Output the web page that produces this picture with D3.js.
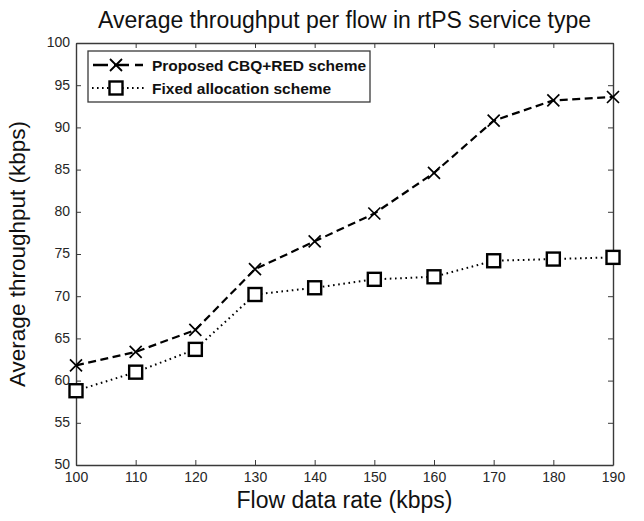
<!DOCTYPE html>
<html>
<head>
<meta charset="utf-8">
<script src="https://cdn.jsdelivr.net/npm/d3@7"></script>
<style>
  body { margin: 0; background: #ffffff; }
  text { font-family: Arial, "Liberation Sans", sans-serif; }
</style>
</head>
<body>
<script>
// data
const flowRates = [100, 110, 120, 130, 140, 150, 160, 170, 180, 190];
const proposedValues = [61.8, 63.4, 66.0, 73.2, 76.5, 79.8, 84.6, 90.8, 93.2, 93.6];
const fixedValues = [58.8, 61.0, 63.7, 70.2, 71.0, 72.0, 72.3, 74.2, 74.4, 74.6];
const yTicks = [50, 55, 60, 65, 70, 75, 80, 85, 90, 95, 100];
const seriesNames = ["Proposed CBQ+RED scheme", "Fixed allocation scheme"];

const titleText = "Average throughput per flow in rtPS service type";
const xLabel = "Flow data rate (kbps)";
const yLabel = "Average throughput (kbps)";

const W = 644, H = 521;
const margin = {top: 43, right: 31, bottom: 56, left: 76},
    width = W - margin.left - margin.right,
    height = H - margin.top - margin.bottom;

let svg = d3.select("body")
  .append("svg")
    .attr("width", W)
    .attr("height", H);

let g = svg.append("g")
    .attr("transform", "translate(" + margin.left + "," + margin.top + ")");

let xScale = d3.scaleLinear()
    .domain([100, 190])
    .range([0, width]);

let yScale = d3.scaleLinear()
    .domain([50, 100])
    .range([height, 0]);

const axisColor = "#3a3a3a";

// axes with inward ticks, MATLAB style
let xAxis = g.append("g")
    .attr("transform", "translate(0," + height + ")")
    .call(d3.axisBottom(xScale).tickValues(flowRates).tickSizeInner(-5).tickSizeOuter(0).tickPadding(7).tickFormat(d3.format("")));

let xTop = g.append("g")
    .call(d3.axisTop(xScale).tickValues(flowRates).tickSizeInner(-5).tickSizeOuter(0).tickFormat(""));

let yAxis = g.append("g")
    .call(d3.axisLeft(yScale).tickValues(yTicks).tickSizeInner(-5).tickSizeOuter(0).tickPadding(6));

let yRight = g.append("g")
    .attr("transform", "translate(" + width + ",0)")
    .call(d3.axisRight(yScale).tickValues(yTicks).tickSizeInner(-5).tickSizeOuter(0).tickFormat(""));

[xAxis, xTop, yAxis, yRight].forEach(function(a) {
    a.select(".domain").attr("stroke", axisColor).attr("stroke-width", 1.4);
    a.selectAll(".tick line").attr("stroke", axisColor).attr("stroke-width", 1);
    a.selectAll(".tick text")
        .attr("fill", "#262626")
        .style("font-size", "14px")
        .style("font-family", "Arial, 'Liberation Sans', sans-serif");
});
yAxis.selectAll(".tick text").attr("dy", "0.28em");

// lines
let lineGen = d3.line()
    .x((d, i) => xScale(flowRates[i]))
    .y((d) => yScale(d));

g.append("path")
    .datum(fixedValues)
    .attr("d", lineGen)
    .attr("fill", "none")
    .attr("stroke", "#000")
    .attr("stroke-width", 2)
    .attr("stroke-dasharray", "1.6,3.6");

g.append("path")
    .datum(proposedValues)
    .attr("d", lineGen)
    .attr("fill", "none")
    .attr("stroke", "#000")
    .attr("stroke-width", 2.2)
    .attr("stroke-dasharray", "8,4.5");

// markers
const crossSize = 6;
g.selectAll(".cross")
    .data(proposedValues)
    .enter()
    .append("path")
    .attr("class", "cross")
    .attr("transform", (d, i) => "translate(" + xScale(flowRates[i]) + "," + yScale(d) + ")")
    .attr("d", "M" + (-crossSize) + "," + (-crossSize) + "L" + crossSize + "," + crossSize +
               "M" + (-crossSize) + "," + crossSize + "L" + crossSize + "," + (-crossSize))
    .attr("stroke", "#000")
    .attr("stroke-width", 1.7)
    .attr("fill", "none");

const sq = 13;
g.selectAll(".square")
    .data(fixedValues)
    .enter()
    .append("rect")
    .attr("class", "square")
    .attr("x", (d, i) => xScale(flowRates[i]) - sq / 2)
    .attr("y", (d) => yScale(d) - sq / 2)
    .attr("width", sq)
    .attr("height", sq)
    .attr("fill", "#fff")
    .attr("stroke", "#000")
    .attr("stroke-width", 2.4);

// legend
let legend = g.append("g")
    .attr("transform", "translate(12,8)");

legend.append("rect")
    .attr("width", 282)
    .attr("height", 51)
    .attr("fill", "#fff")
    .attr("stroke", axisColor)
    .attr("stroke-width", 1.3);

let rowY = [14, 37];

legend.append("line")
    .attr("x1", 5).attr("x2", 55)
    .attr("y1", rowY[0]).attr("y2", rowY[0])
    .attr("stroke", "#000").attr("stroke-width", 2.4)
    .attr("stroke-dasharray", "15,6");
legend.append("path")
    .attr("transform", "translate(28," + rowY[0] + ")")
    .attr("d", "M-6,-6L6,6M-6,6L6,-6")
    .attr("stroke", "#000").attr("stroke-width", 1.8);

legend.append("line")
    .attr("x1", 4).attr("x2", 56)
    .attr("y1", rowY[1]).attr("y2", rowY[1])
    .attr("stroke", "#000").attr("stroke-width", 2)
    .attr("stroke-dasharray", "1.6,3.4");
legend.append("rect")
    .attr("x", 28 - sq / 2).attr("y", rowY[1] - sq / 2)
    .attr("width", sq).attr("height", sq)
    .attr("fill", "#fff").attr("stroke", "#000").attr("stroke-width", 2.4);

legend.selectAll(".legText")
    .data(seriesNames)
    .enter()
    .append("text")
    .attr("class", "legText")
    .attr("x", 64)
    .attr("y", (d, i) => rowY[i] + 5.5)
    .style("font-size", "15.5px")
    .style("font-weight", "bold")
    .attr("fill", "#111")
    .text((d) => d);

// titles
svg.append("text")
    .attr("x", margin.left + width / 2)
    .attr("y", 28)
    .attr("text-anchor", "middle")
    .style("font-size", "23px")
    .attr("fill", "#111")
    .text(titleText);

svg.append("text")
    .attr("x", margin.left + width / 2)
    .attr("y", 508)
    .attr("text-anchor", "middle")
    .style("font-size", "23px")
    .attr("fill", "#111")
    .text(xLabel);

svg.append("text")
    .attr("transform", "translate(25," + (margin.top + height / 2) + ") rotate(-90)")
    .attr("text-anchor", "middle")
    .style("font-size", "22.5px")
    .attr("fill", "#111")
    .text(yLabel);
</script>
</body>
</html>
